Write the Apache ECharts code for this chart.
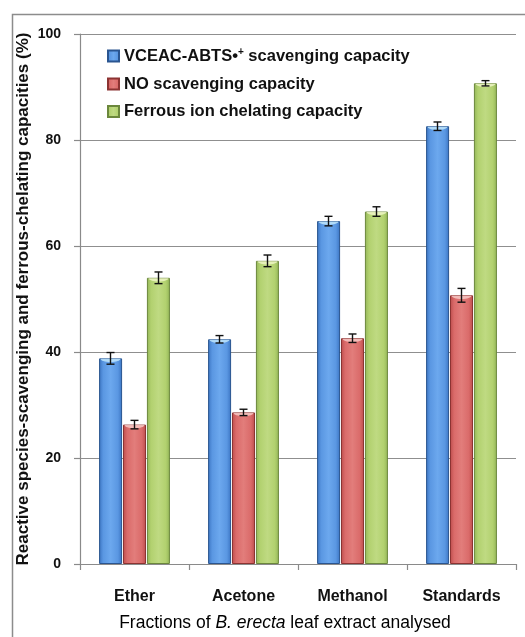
<!DOCTYPE html>
<html>
<head>
<meta charset="utf-8">
<script src="https://cdn.jsdelivr.net/npm/echarts@6/dist/echarts.min.js"></script>
<style>
  html, body { margin: 0; padding: 0; background: #fff; }
  #chart { width: 525px; height: 637px; }
</style>
</head>
<body>
<div id="chart"></div>
<script>
// Leaf extract fractions on the category axis
const fractions = ['Ether', 'Acetone', 'Methanol', 'Standards'];

// Mean capacities (%) and their error margins
const abtsValues = [38.8, 42.4, 64.7, 82.6];
const abtsErrors = [1.1, 0.7, 0.9, 0.8];
const noValues = [26.3, 28.6, 42.6, 50.7];
const noErrors = [0.8, 0.6, 0.8, 1.3];
const ferrousValues = [54.0, 57.2, 66.5, 90.7];
const ferrousErrors = [1.1, 1.1, 0.9, 0.5];

const yTicks = [0, 20, 40, 60, 80, 100];

const seriesNames = [
  'VCEAC-ABTS scavenging capacity',
  'NO scavenging capacity',
  'Ferrous ion chelating capacity'
];

const FONT = 'Liberation Sans, Arial, sans-serif';
const BAR_W = 23;
const BAR_STEP = 24;

function cylinder(dark, main, light) {
  return new echarts.graphic.LinearGradient(0, 0, 1, 0, [
    { offset: 0, color: dark },
    { offset: 0.18, color: main },
    { offset: 0.5, color: light },
    { offset: 0.82, color: main },
    { offset: 1, color: dark }
  ]);
}

const palettes = [
  { fill: cylinder('#3b74c2', '#5a97e2', '#6ca8ee'), border: '#2a5590', cap: '#bfe6fb' },
  { fill: cylinder('#bc4c4b', '#da6b6a', '#e27d7b'), border: '#8c3332', cap: '#f7c9c6' },
  { fill: cylinder('#93b558', '#b2d16f', '#bfda82'), border: '#6b873c', cap: '#eef6c6' }
];

const values = [abtsValues, noValues, ferrousValues];
const errors = [abtsErrors, noErrors, ferrousErrors];

// Bars
const barSeries = values.map((vals, i) => ({
  name: seriesNames[i],
  type: 'bar',
  data: vals,
  barWidth: BAR_W,
  barGap: '4%',
  barCategoryGap: '34%',
  itemStyle: {
    color: palettes[i].fill,
    borderColor: palettes[i].border,
    borderWidth: 1
  },
  z: 2
}));

// Error bars and top highlights drawn on top of each bar
const errorSeries = values.map((vals, i) => ({
  name: seriesNames[i],
  type: 'custom',
  data: vals.map((v, k) => [k, v, errors[i][k]]),
  z: 5,
  silent: true,
  renderItem: function (params, api) {
    const k = api.value(0);
    const v = api.value(1);
    const e = api.value(2);
    const off = (i - 1) * BAR_STEP;
    const top = api.coord([k, v]);
    const hi = api.coord([k, v + e]);
    const lo = api.coord([k, v - e]);
    const x = top[0] + off;
    const half = BAR_W / 2 - 1.5;
    const pts = [];
    for (let a = 0; a <= 16; a++) {
      const t = Math.PI * a / 16;
      pts.push([x - half * Math.cos(t), top[1] + 0.5 + 3.2 * Math.sin(t)]);
    }
    const cap = 4;
    const ls = { stroke: '#111', lineWidth: 1.4 };
    return {
      type: 'group',
      children: [
        { type: 'polygon', shape: { points: pts }, style: { fill: palettes[i].cap, opacity: 0.85 } },
        { type: 'line', shape: { x1: x, y1: hi[1], x2: x, y2: lo[1] }, style: ls },
        { type: 'line', shape: { x1: x - cap, y1: hi[1], x2: x + cap, y2: hi[1] }, style: ls },
        { type: 'line', shape: { x1: x - cap, y1: lo[1], x2: x + cap, y2: lo[1] }, style: ls }
      ]
    };
  }
}));

const chart = echarts.init(document.getElementById('chart'), null, { renderer: 'canvas' });

chart.setOption({
  animation: false,
  backgroundColor: '#fff',
  textStyle: { fontFamily: FONT },
  grid: { left: 80, right: 9, top: 34, bottom: 73 },
  legend: {
    data: seriesNames,
    orient: 'vertical',
    left: 102,
    top: 42,
    itemWidth: 11,
    itemHeight: 11,
    itemGap: 10.5,
    icon: 'rect',
    formatter: function (name) {
      if (name === seriesNames[0]) {
        return '{t|VCEAC-ABTS•}{s|+}{t| scavenging capacity}';
      }
      return '{t|' + name + '}';
    },
    textStyle: {
      rich: {
        t: { fontSize: 16.5, fontWeight: 'bold', color: '#111', lineHeight: 18, fontFamily: FONT },
        s: { fontSize: 10, fontWeight: 'bold', color: '#111', verticalAlign: 'top', lineHeight: 18, padding: [0, 0, 8, 0], fontFamily: FONT }
      }
    }
  },
  xAxis: {
    type: 'category',
    data: fractions,
    axisLine: { show: true, lineStyle: { color: '#8a8a8a', width: 1.2 } },
    axisTick: { show: true, length: 6, lineStyle: { color: '#8a8a8a', width: 1.2 } },
    axisLabel: { margin: 25, fontSize: 16, fontWeight: 'bold', color: '#111' }
  },
  yAxis: {
    type: 'value',
    min: 0,
    max: 100,
    interval: 20,
    name: 'Reactive species-scavenging and ferrous-chelating capacities (%)',
    nameLocation: 'middle',
    nameRotate: 90,
    nameGap: 48,
    nameMoveOverlap: false,
    nameTextStyle: { fontSize: 17, fontWeight: 'bold', color: '#111' },
    axisLine: { show: true, lineStyle: { color: '#8a8a8a', width: 1.2 } },
    axisTick: { show: true, length: 6, lineStyle: { color: '#8a8a8a', width: 1.2 } },
    axisLabel: {
      margin: 19, fontSize: 14, fontWeight: 'bold', color: '#111',
      formatter: function (v) { return yTicks.indexOf(v) >= 0 ? String(v) : ''; }
    },
    splitLine: { show: true, lineStyle: { color: '#8f8f8f', width: 1.2 } }
  },
  graphic: [
    {
      type: 'rect',
      shape: { x: 12.5, y: 14.5, width: 700, height: 800 },
      style: { fill: 'none', stroke: '#8c8c8c', lineWidth: 1.5 },
      silent: true,
      z: -1
    },
    {
      type: 'text',
      x: 285, y: 623,
      style: {
        text: '{n|Fractions of }{i|B. erecta}{n| leaf extract analysed}',
        textAlign: 'center',
        textVerticalAlign: 'middle',
        rich: {
          n: { fontSize: 17.5, color: '#111', fontFamily: FONT },
          i: { fontSize: 17.5, color: '#111', fontStyle: 'italic', fontFamily: FONT }
        }
      }
    }
  ],
  series: barSeries.concat(errorSeries)
});
</script>
</body>
</html>
